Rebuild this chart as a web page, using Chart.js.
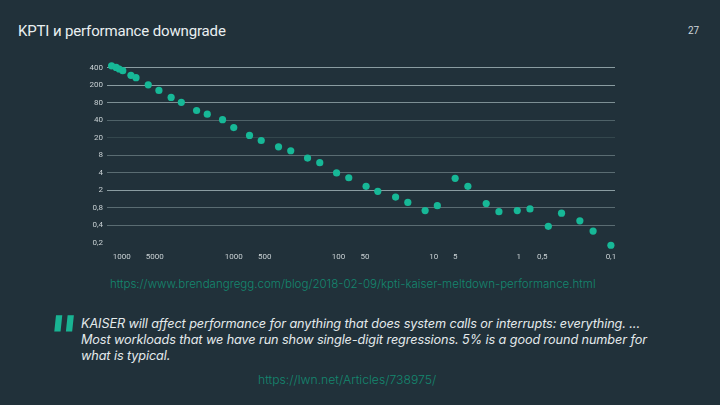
<!DOCTYPE html>
<html>
<head>
<meta charset="utf-8">
<script src="https://cdn.jsdelivr.net/npm/chart.js@4/dist/chart.umd.min.js"></script>
<style>
  html, body { margin:0; padding:0; }
  body { width:720px; height:405px; background:#21313a; position:relative; overflow:hidden; font-family: Roboto, "Noto Sans", sans-serif; }
  #title { position:absolute; left:18px; top:22px; font-size:15px; color:#e9eff1; letter-spacing:-0.15px; white-space:nowrap; }
  #page { position:absolute; left:688px; top:25px; font-size:10px; color:#cfd7da; }
  #wrap { position:absolute; left:0; top:50px; width:615px; height:215px; overflow:hidden; }
  #chartBox { position:absolute; left:60px; top:0; width:590px; height:215px; }
  .url { position:absolute; font-family: Inter, Roboto, sans-serif; color:#14876f; white-space:nowrap; font-weight:300; }
  #url1 { left:110px; top:277px; font-size:11.55px; }
  #url2 { left:258px; top:372px; font-size:12.2px; }
  #qmark { position:absolute; left:47px; top:308px; font-family:"DejaVu Sans"; font-weight:bold; font-size:60px; line-height:60px; color:#19b393; transform:skewX(-6deg) scaleX(0.9); }
  #quote { position:absolute; left:81px; top:316px; font-family: Inter, Roboto, sans-serif; font-size:12.7px; line-height:16px; color:#e4eaec; font-style:italic; white-space:nowrap; letter-spacing:-0.1px; }
</style>
</head>
<body>
<div id="title">KPTI и performance downgrade</div>
<div id="page">27</div>
<div id="wrap"><div id="chartBox"><canvas id="c"></canvas></div></div>
<div class="url" id="url1">https://www.brendangregg.com/blog/2018-02-09/kpti-kaiser-meltdown-performance.html</div>
<div id="qmark">"</div>
<div id="quote">KAISER will affect performance for anything that does system calls or interrupts: everything. ...<br>Most workloads that we have run show single-digit regressions. 5% is a good round number for<br>what is typical.</div>
<div class="url" id="url2">https://lwn.net/Articles/738975/</div>
<script>
// Y axis: tick values (top to bottom) and their labels as printed
const yTickValues = [400, 200, 80, 40, 20, 8, 4, 2, 0.8, 0.4, 0.2];
const yTickLabels = ['400', '200', '80', '40', '20', '8', '4', '2', '0,8', '0,4', '0,2'];
// X axis: labels as printed and their place along the axis (0..100)
const xTickLabels = ['1000', '5000', '1000', '500', '100', '50', '10', '5', '1', '0,5', '0,1'];
const xTickPos    = [2.9, 9.4, 24.9, 31.0, 45.5, 50.7, 64.2, 68.4, 80.9, 85.5, 99.0];
// Points: place along x axis, and y value
const pointX = [0.9, 1.8, 2.4, 3.1, 4.7, 5.7, 8.1, 10.2, 12.6, 14.6, 17.6, 19.7, 22.7, 24.9, 28.0, 30.3,
                33.7, 36.1, 39.4, 41.8, 45.1, 47.5, 50.9, 53.2, 56.7, 59.1, 62.5, 64.9, 68.4, 70.9, 74.5,
                77.0, 80.6, 83.1, 86.7, 89.3, 92.9, 95.5, 99.0];
const pointY = [432, 406, 381, 356, 297, 270, 204, 153, 106, 82, 59, 51, 41, 30, 22, 17.4,
                12.5, 10.2, 7.2, 6.0, 4.0, 3.3, 2.35, 1.91, 1.41, 1.07, 0.72, 0.90, 3.23, 2.35, 1.01,
                0.69, 0.72, 0.77, 0.386, 0.65, 0.48, 0.32, 0.183];

// map a value onto the evenly spaced (piecewise-log) y axis
function yPos(v) {
  const t = yTickValues;
  let i = 0;
  while (i < t.length - 2 && v < t[i + 1]) i++;
  return i + Math.log(t[i] / v) / Math.log(t[i] / t[i + 1]);
}

const points = pointX.map((x, i) => ({ x: x, y: yPos(pointY[i]) }));

const gridCols = ['#8a9ca1', '#8a9ca1', '#7d8f94', '#4f6268', '#34474d', '#5a6c72', '#5a6c72', '#8a9ca1', '#5a6c72', '#5a6c72', 'rgba(0,0,0,0)'];

new Chart(document.getElementById('c'), {
  type: 'scatter',
  data: { datasets: [{ data: points, backgroundColor: '#17b897', borderColor: '#17b897', pointRadius: 3.6, pointHoverRadius: 3.6, borderWidth: 0 }] },
  options: {
    responsive: true, maintainAspectRatio: false, animation: false,
    layout: { padding: { top: 9, right: 34, bottom: 1, left: 0 } },
    plugins: { legend: { display: false }, tooltip: { enabled: false } },
    scales: {
      x: {
        type: 'linear', min: 0, max: 100,
        afterBuildTicks: s => { s.ticks = xTickPos.map(v => ({ value: v })); },
        afterFit: s => { s.height = 14; },
        ticks: { autoSkip: false, maxRotation: 0, padding: 2, color: '#c9d1d4', font: { size: 8, family: 'Roboto' },
                 callback: (v, i) => xTickLabels[i] },
        grid: { display: false, drawTicks: false },
        border: { display: false }
      },
      y: {
        type: 'linear', reverse: true, min: -0.5, max: 10.4,
        afterBuildTicks: s => { s.ticks = yTickValues.map((v, i) => ({ value: i })); },
        afterFit: s => { s.width = 47; },
        ticks: { autoSkip: false, padding: 4, color: '#c9d1d4', font: { size: 8, family: 'Roboto' },
                 callback: (v) => yTickLabels[v] },
        grid: { drawTicks: false, lineWidth: 1, color: ctx => gridCols[ctx.index] || '#5a6c72' },
        border: { display: false }
      }
    }
  }
});
</script>
</body>
</html>
